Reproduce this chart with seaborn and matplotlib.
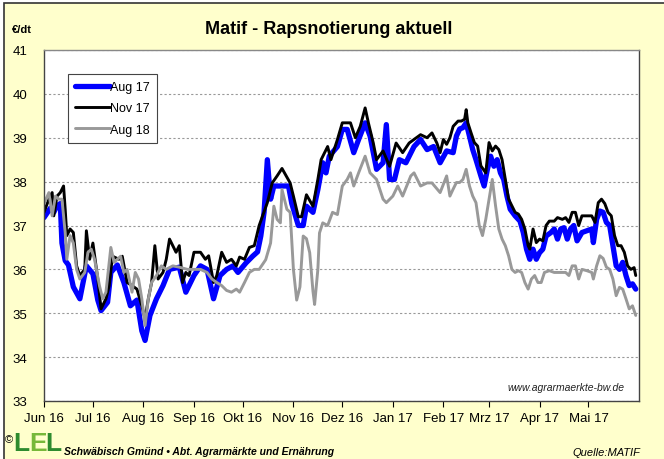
import pandas as pd
import matplotlib
matplotlib.use("Agg")
import matplotlib.pyplot as plt
from matplotlib.patches import Rectangle
import seaborn as sns

# ---------------- data ----------------
aug17_dates = ["2016-06-01","2016-06-05","2016-06-07","2016-06-09","2016-06-11","2016-06-12","2016-06-14","2016-06-16",
    "2016-06-19","2016-06-23","2016-06-27","2016-07-01","2016-07-04","2016-07-06","2016-07-10","2016-07-12","2016-07-16",
    "2016-07-20","2016-07-24","2016-07-28","2016-07-31","2016-08-02","2016-08-05","2016-08-09","2016-08-13","2016-08-17",
    "2016-08-23","2016-08-27","2016-09-01","2016-09-05","2016-09-09","2016-09-13","2016-09-17","2016-09-21","2016-09-25",
    "2016-09-28","2016-10-03","2016-10-07","2016-10-10","2016-10-12","2016-10-14","2016-10-16","2016-10-18","2016-10-20",
    "2016-10-24","2016-10-29","2016-10-31","2016-11-04","2016-11-07","2016-11-09","2016-11-13","2016-11-16","2016-11-19",
    "2016-11-21","2016-11-23","2016-11-28","2016-12-01","2016-12-04","2016-12-08","2016-12-11","2016-12-15","2016-12-18",
    "2016-12-22","2016-12-26","2016-12-28","2016-12-30","2017-01-02","2017-01-05","2017-01-09","2017-01-14","2017-01-18",
    "2017-01-22","2017-01-26","2017-01-30","2017-02-03","2017-02-07","2017-02-09","2017-02-11","2017-02-13","2017-02-15",
    "2017-02-17","2017-02-19","2017-02-21","2017-02-24","2017-02-26","2017-02-28","2017-03-02","2017-03-04","2017-03-06",
    "2017-03-08","2017-03-10","2017-03-12","2017-03-14","2017-03-17","2017-03-20","2017-03-22","2017-03-24","2017-03-26",
    "2017-03-28","2017-03-30","2017-04-01","2017-04-03","2017-04-05","2017-04-08","2017-04-10","2017-04-12","2017-04-14",
    "2017-04-16","2017-04-18","2017-04-20","2017-04-22","2017-04-24","2017-04-27","2017-04-30","2017-05-03","2017-05-04",
    "2017-05-06","2017-05-08","2017-05-10","2017-05-12","2017-05-14","2017-05-16","2017-05-18","2017-05-20","2017-05-22",
    "2017-05-24","2017-05-26","2017-05-28","2017-05-30"]
aug17_values = [37.18,37.4,37.3,37.45,37.5,36.6,36.2,36.1,
    35.6,35.33,36.08,35.9,35.3,35.06,35.25,35.93,36.1,
    35.7,35.17,35.3,34.6,34.38,34.95,35.33,35.63,36.0,
    36.05,35.48,35.86,36.08,36.0,35.33,35.86,36.0,36.08,
    35.93,36.15,36.3,36.4,36.76,37.3,38.5,37.6,37.9,
    37.9,37.9,37.5,37.0,37.0,37.44,37.3,37.82,38.43,
    38.2,38.58,38.8,39.19,39.19,38.66,38.96,39.34,39.04,
    38.28,38.43,39.3,38.05,38.05,38.5,38.43,38.8,38.96,
    38.73,38.8,38.43,38.7,38.66,39.04,39.2,39.23,39.34,
    39.04,38.73,38.5,38.13,37.9,38.28,38.58,38.35,38.5,
    38.2,38.05,37.67,37.37,37.22,37.1,36.84,36.46,36.23,
    36.46,36.23,36.38,36.46,36.76,36.84,36.92,36.69,36.92,
    36.95,36.69,36.92,37.0,36.65,36.84,36.88,36.92,36.61,
    37.14,37.33,37.3,37.07,37.0,36.54,36.08,36.0,36.16,
    35.86,35.63,35.67,35.55]

nov17_dates = ["2016-06-01","2016-06-04","2016-06-06","2016-06-07","2016-06-09","2016-06-11","2016-06-13","2016-06-14",
    "2016-06-15","2016-06-17","2016-06-19","2016-06-21","2016-06-23","2016-06-26","2016-06-27","2016-06-29","2016-07-01",
    "2016-07-04","2016-07-06","2016-07-09","2016-07-11","2016-07-13","2016-07-17","2016-07-19","2016-07-22","2016-07-25",
    "2016-07-28","2016-07-31","2016-08-02","2016-08-04","2016-08-06","2016-08-08","2016-08-10","2016-08-13","2016-08-15",
    "2016-08-17","2016-08-19","2016-08-21","2016-08-23","2016-08-25","2016-08-27","2016-08-29","2016-09-01","2016-09-05",
    "2016-09-08","2016-09-10","2016-09-13","2016-09-15","2016-09-18","2016-09-21","2016-09-24","2016-09-27","2016-09-29",
    "2016-10-02","2016-10-05","2016-10-08","2016-10-11","2016-10-16","2016-10-19","2016-10-22","2016-10-25","2016-10-30",
    "2016-11-01","2016-11-04","2016-11-06","2016-11-09","2016-11-13","2016-11-16","2016-11-18","2016-11-22","2016-11-24",
    "2016-11-28","2016-12-01","2016-12-06","2016-12-09","2016-12-12","2016-12-15","2016-12-17","2016-12-20","2016-12-22",
    "2016-12-26","2016-12-30","2017-01-03","2017-01-07","2017-01-11","2017-01-18","2017-01-22","2017-01-25","2017-01-28",
    "2017-01-30","2017-02-01","2017-02-03","2017-02-05","2017-02-07","2017-02-10","2017-02-12","2017-02-14","2017-02-15",
    "2017-02-16","2017-02-18","2017-02-20","2017-02-22","2017-02-24","2017-02-27","2017-03-01","2017-03-03","2017-03-05",
    "2017-03-07","2017-03-09","2017-03-11","2017-03-13","2017-03-15","2017-03-17","2017-03-19","2017-03-21","2017-03-23",
    "2017-03-25","2017-03-26","2017-03-28","2017-03-30","2017-04-01","2017-04-03","2017-04-05","2017-04-07","2017-04-10",
    "2017-04-12","2017-04-15","2017-04-17","2017-04-19","2017-04-21","2017-04-23","2017-04-25","2017-04-27","2017-04-30",
    "2017-05-03","2017-05-05","2017-05-07","2017-05-09","2017-05-11","2017-05-13","2017-05-15","2017-05-17","2017-05-19",
    "2017-05-21","2017-05-23","2017-05-25","2017-05-27","2017-05-29","2017-05-30"]
nov17_values = [37.3,37.6,37.75,37.22,37.67,37.75,37.9,37.37,
    36.77,36.92,36.84,36.08,35.86,36.0,36.88,36.23,36.6,
    35.78,35.1,35.33,35.63,36.3,36.23,36.3,35.7,35.63,
    35.55,35.17,34.87,35.33,35.7,36.54,35.78,35.93,36.23,
    36.69,36.54,36.39,36.54,35.7,35.93,35.86,36.39,36.39,
    36.23,36.31,35.7,35.86,36.39,36.16,36.23,36.08,36.28,
    36.23,36.5,36.54,37.0,37.52,37.97,38.13,38.3,37.97,
    37.67,37.2,37.2,37.7,37.44,38.05,38.5,38.8,38.5,
    38.96,39.34,39.34,39.0,39.26,39.68,39.34,38.88,38.5,
    38.7,38.35,38.88,38.66,38.88,39.07,39.0,39.11,38.88,
    38.66,38.96,38.85,39.0,39.26,39.38,39.38,39.42,39.64,
    39.34,39.11,38.89,38.81,38.36,38.2,38.89,38.7,38.81,
    38.73,38.5,38.05,37.6,37.45,37.3,37.26,37.14,36.92,
    36.54,36.46,36.92,36.61,36.69,36.65,37.0,37.1,37.1,
    37.18,37.14,37.18,37.07,37.3,37.3,37.0,37.22,37.22,
    37.22,37.07,37.52,37.6,37.5,37.3,37.22,36.77,36.54,
    36.54,36.39,36.08,36.0,36.04,35.86]

aug18_dates = ["2016-06-01","2016-06-04","2016-06-06","2016-06-08","2016-06-10","2016-06-12","2016-06-14","2016-06-15",
    "2016-06-17","2016-06-19","2016-06-21","2016-06-23","2016-06-26","2016-06-28","2016-06-30","2016-07-02","2016-07-05",
    "2016-07-07","2016-07-09","2016-07-12","2016-07-14","2016-07-16","2016-07-18","2016-07-20","2016-07-22","2016-07-25",
    "2016-07-27","2016-07-29","2016-07-31","2016-08-02","2016-08-04","2016-08-06","2016-08-09","2016-08-12","2016-08-15",
    "2016-08-19","2016-08-23","2016-08-28","2016-09-01","2016-09-05","2016-09-09","2016-09-12","2016-09-15","2016-09-18",
    "2016-09-21","2016-09-24","2016-09-27","2016-09-29","2016-10-02","2016-10-05","2016-10-08","2016-10-11","2016-10-15",
    "2016-10-18","2016-10-20","2016-10-22","2016-10-24","2016-10-25","2016-10-28","2016-10-30","2016-11-01","2016-11-03",
    "2016-11-05","2016-11-07","2016-11-09","2016-11-11","2016-11-13","2016-11-14","2016-11-16","2016-11-17","2016-11-19",
    "2016-11-22","2016-11-25","2016-11-28","2016-12-01","2016-12-04","2016-12-06","2016-12-08","2016-12-11","2016-12-15",
    "2016-12-18","2016-12-22","2016-12-26","2016-12-28","2017-01-01","2017-01-04","2017-01-07","2017-01-12","2017-01-14",
    "2017-01-18","2017-01-22","2017-01-25","2017-01-30","2017-02-03","2017-02-05","2017-02-07","2017-02-09","2017-02-11",
    "2017-02-13","2017-02-15","2017-02-17","2017-02-19","2017-02-21","2017-02-23","2017-02-25","2017-02-27","2017-03-01",
    "2017-03-03","2017-03-05","2017-03-07","2017-03-09","2017-03-11","2017-03-13","2017-03-15","2017-03-17","2017-03-19",
    "2017-03-21","2017-03-23","2017-03-25","2017-03-27","2017-03-29","2017-03-31","2017-04-02","2017-04-04","2017-04-07",
    "2017-04-10","2017-04-14","2017-04-17","2017-04-19","2017-04-21","2017-04-23","2017-04-25","2017-04-27","2017-04-30",
    "2017-05-03","2017-05-04","2017-05-06","2017-05-08","2017-05-10","2017-05-12","2017-05-14","2017-05-16","2017-05-18",
    "2017-05-20","2017-05-22","2017-05-24","2017-05-26","2017-05-28","2017-05-30"]
aug18_values = [37.5,37.75,37.22,37.67,37.6,37.6,36.84,36.23,
    36.77,36.6,36.0,35.78,35.93,36.39,36.46,36.23,35.63,
    35.33,35.48,36.5,36.16,36.23,36.3,35.93,36.0,35.48,
    35.93,35.78,35.33,34.72,35.33,35.7,35.86,36.08,36.0,
    36.08,36.05,36.0,36.0,36.0,35.93,35.78,35.7,35.63,
    35.52,35.48,35.55,35.48,35.7,35.93,36.0,36.0,36.22,
    36.6,37.44,37.14,37.06,37.82,37.37,37.3,36.0,35.3,
    35.6,36.76,36.7,36.38,35.5,35.2,36.0,36.83,37.06,
    37.0,37.3,37.25,37.9,38.05,38.2,37.9,38.2,38.58,
    38.2,38.05,37.6,37.52,37.67,37.9,37.67,38.13,38.2,
    37.9,37.97,37.97,37.75,38.13,37.67,37.83,37.98,37.98,
    38.05,38.28,37.9,37.67,37.52,37.0,36.77,37.14,37.6,
    38.05,37.45,36.92,36.69,36.54,36.31,36.0,35.93,35.97,
    35.93,35.7,35.55,35.78,35.86,35.7,35.7,35.93,35.97,
    35.93,35.93,35.93,35.86,36.08,36.08,35.78,36.0,35.97,
    35.93,35.78,36.08,36.31,36.25,36.05,36.0,35.78,35.4,
    35.59,35.55,35.33,35.1,35.17,34.95]

series_names = ["Aug 17", "Nov 17", "Aug 18"]
series_colors = ["#0000FF", "#000000", "#999999"]

tick_dates = ["2016-06-01","2016-07-01","2016-08-01","2016-09-01","2016-10-01","2016-11-01",
              "2016-12-01","2017-01-01","2017-02-01","2017-03-01","2017-04-01","2017-05-01"]
tick_labels = ["Jun 16","Jul 16","Aug 16","Sep 16","Okt 16","Nov 16",
               "Dez 16","Jan 17","Feb 17","Mrz 17","Apr 17","Mai 17"]
y_ticks = [33, 34, 35, 36, 37, 38, 39, 40, 41]

# ---------------- figure ----------------
sns.set_style("white")
plt.rcParams["font.family"] = ["Liberation Sans", "DejaVu Sans"]
plt.rcParams["text.color"] = "black"
plt.rcParams["xtick.color"] = "black"
plt.rcParams["ytick.color"] = "black"

W, H = 664, 460
fig = plt.figure(figsize=(W / 100, H / 100), dpi=100, facecolor="white")
bg = Rectangle((4 / W, -0.01), 1.0, 1.01 - 4 / H, transform=fig.transFigure,
               facecolor="#FFFFCC", edgecolor="#333333", linewidth=1.2, zorder=-10)
fig.patches.append(bg)

ax = fig.add_axes([44 / W, 1 - 402 / H, (639 - 44) / W, (402 - 51) / H])
ax.set_zorder(1)
ax.set_facecolor("white")

frames = []
for name, d, v in [(series_names[0], aug17_dates, aug17_values),
                   (series_names[1], nov17_dates, nov17_values),
                   (series_names[2], aug18_dates, aug18_values)]:
    frames.append(pd.DataFrame({"date": pd.to_datetime(d), "value": v, "contract": name}))
df = pd.concat(frames, ignore_index=True)

widths = [3.8, 2.1, 2.1]
for name, col, lw in zip(series_names, series_colors, widths):
    sns.lineplot(data=df[df["contract"] == name], x="date", y="value", color=col,
                 linewidth=lw, estimator=None, sort=False, ax=ax, label=name,
                 solid_joinstyle="round")

ax.set_xlim(pd.Timestamp("2016-06-01"), pd.Timestamp("2017-06-01"))
ax.set_ylim(33, 41)
ax.set_yticks(y_ticks)
ax.set_yticklabels([str(t) for t in y_ticks])
ax.set_xticks(pd.to_datetime(tick_dates))
ax.set_xticklabels(tick_labels)
ax.set_xlabel("")
ax.set_ylabel("")
ax.yaxis.grid(True, linestyle=(0, (2, 2)), color="#999999", linewidth=0.8)
ax.xaxis.grid(False)
ax.set_axisbelow(True)
ax.tick_params(axis="y", length=0, pad=12, labelsize=9.5, colors="black")
ax.tick_params(axis="x", length=4, width=0.8, direction="out", pad=4, labelsize=9.5, colors="black",
               bottom=True)
for s in ["left", "bottom", "right"]:
    ax.spines[s].set_color("#444444")
    ax.spines[s].set_linewidth(1.0)
ax.spines["top"].set_color("#888888")
ax.spines["top"].set_linewidth(1.0)

leg = ax.legend(loc="upper left", bbox_to_anchor=((68 - 44) / (639 - 44), 1 - (75 - 51) / (402 - 51)),
                frameon=True, fancybox=False, shadow=False, fontsize=9, handlelength=2.8,
                handletextpad=0.05, borderpad=0.55, labelspacing=0.75, borderaxespad=0)
leg.get_frame().set_edgecolor("#444444")
leg.get_frame().set_linewidth(0.8)
leg.get_frame().set_facecolor("white")
leg.get_frame().set_alpha(1)

# ---------------- texts ----------------
fig.text(329 / W, 1 - 30 / H, "Matif - Rapsnotierung aktuell", ha="center", va="center",
         fontsize=13, fontweight="bold")
fig.text(12 / W, 1 - 30 / H, "€/dt", ha="left", va="center", fontsize=8, fontweight="bold")
ax.text(0.975, 0.04, "www.agrarmaerkte-bw.de", transform=ax.transAxes, ha="right", va="center",
        fontsize=7.5, style="italic", color="#222222")

fig.text(5 / W, 1 - 440 / H, "©", ha="left", va="center", fontsize=8)
fig.text(13 / W, 1 - 444 / H, "L", ha="left", va="center", fontsize=19, fontweight="bold", color="#2E8B2E")
fig.text(29 / W, 1 - 444 / H, "E", ha="left", va="center", fontsize=19, fontweight="bold", color="#77B83A")
fig.text(45 / W, 1 - 444 / H, "L", ha="left", va="center", fontsize=19, fontweight="bold", color="#2E8B2E")
fig.text(64 / W, 1 - 452 / H, "Schwäbisch Gmünd • Abt. Agrarmärkte und Ernährung", ha="left", va="center",
         fontsize=7.5, fontweight="bold", style="italic")
fig.text(640 / W, 1 - 453 / H, "Quelle:MATIF", ha="right", va="center", fontsize=8, style="italic")

fig.savefig("out.png", dpi=100, facecolor=fig.get_facecolor())
